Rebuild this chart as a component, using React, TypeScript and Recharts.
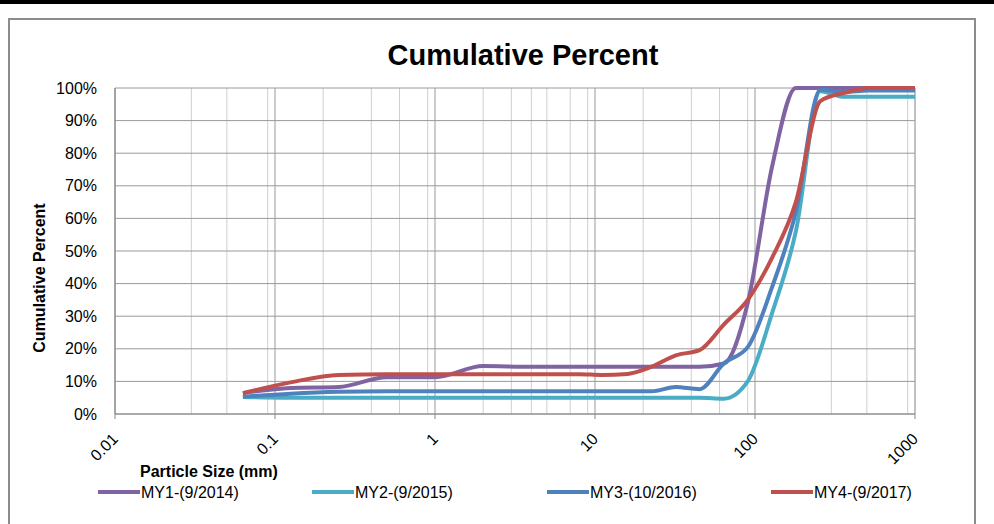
import { LineChart, Line, XAxis, YAxis, CartesianGrid } from 'recharts';

const sizes = [0.063, 0.125, 0.25, 0.5, 1, 2, 4, 5.6, 8, 11, 16, 22.6, 32, 45, 64, 90, 128, 180, 256, 362, 512, 1024];
const my1 = [6.4, 8, 8.3, 11.3, 11.3, 14.7, 14.5, 14.5, 14.5, 14.5, 14.5, 14.5, 14.5, 14.5, 15.5, 34, 76, 100, 100, 100, 100, 100];
const my2 = [5.2, 5, 5, 5, 5, 5, 5, 5, 5, 5, 5, 5, 5, 5, 4.7, 10, 31, 56, 99, 97.3, 97.3, 97.3];
const my3 = [5.3, 6.2, 6.8, 7, 7, 7, 7, 7, 7, 7, 7, 7, 8.3, 7.6, 15.6, 20.5, 39, 62, 99.5, 98.8, 99.2, 99.2];
const my4 = [6.4, 9.7, 12, 12.2, 12.2, 12.2, 12.2, 12.2, 12.2, 12, 12.3, 14.5, 18, 19.6, 27.5, 35, 48, 65, 96, 98.5, 100, 100];

const seriesNames = ['MY1-(9/2014)', 'MY2-(9/2015)', 'MY3-(10/2016)', 'MY4-(9/2017)'];
const seriesKeys = ['my1', 'my2', 'my3', 'my4'];
const seriesColors = ['#8064A2', '#4BACC6', '#4F81BD', '#C0504D'];
const legendX = [98, 312, 547, 771];

const majorTicks = [0.01, 0.1, 1, 10, 100, 1000];
const minorTicks = [0.02, 0.03, 0.04, 0.05, 0.06, 0.07, 0.08, 0.09, 0.2, 0.3, 0.4, 0.5, 0.6, 0.7, 0.8, 0.9, 2, 3, 4, 5, 6, 7, 8, 9, 20, 30, 40, 50, 60, 70, 80, 90, 200, 300, 400, 500, 600, 700, 800, 900];
const yTicks = [0, 10, 20, 30, 40, 50, 60, 70, 80, 90, 100];

const data = sizes.map((size, i) => ({
  size,
  my1: my1[i],
  my2: my2[i],
  my3: my3[i],
  my4: my4[i],
}));

const FONT = '"Liberation Sans", Arial, sans-serif';

function XTick({ x, y, payload }: any) {
  const ax = x + 4;
  const ay = y + 19;
  return (
    <text
      x={ax}
      y={ay}
      transform={`rotate(-45 ${ax} ${ay})`}
      textAnchor="end"
      fontSize={16}
      fontFamily={FONT}
      fill="#000"
    >
      {payload.value}
    </text>
  );
}

export default function App() {
  return (
    <div style={{ position: 'absolute', left: 0, top: 0, width: 994, height: 524, background: '#fff', overflow: 'hidden' }}>
      <div style={{ position: 'absolute', left: 0, top: 0, width: 994, height: 4, background: '#000' }} />
      <div
        style={{
          position: 'absolute',
          left: 8,
          top: 18,
          width: 968,
          height: 530,
          border: '2px solid #8c8c8c',
          boxSizing: 'border-box',
        }}
      />
      <div style={{ position: 'absolute', left: 0, top: 0 }}>
        <LineChart width={994} height={524} data={data} margin={{ top: 88, right: 79, bottom: 70, left: 55 }}>
          <XAxis xAxisId="minor" dataKey="size" type="number" scale="log" domain={[0.01, 1000]} allowDataOverflow ticks={minorTicks} hide />
          <CartesianGrid xAxisId="minor" horizontal={false} stroke="#cfcfcf" strokeWidth={1} />
          <CartesianGrid stroke="#9a9a9a" strokeWidth={1} />
          <XAxis
            dataKey="size"
            type="number"
            scale="log"
            domain={[0.01, 1000]}
            allowDataOverflow
            ticks={majorTicks}
            tick={<XTick />}
            tickSize={5}
            tickLine={{ stroke: '#888' }}
            axisLine={{ stroke: '#888' }}
            height={40}
            interval={0}
          />
          <YAxis
            domain={[0, 100]}
            ticks={yTicks}
            tickFormatter={(v) => `${v}%`}
            tickLine={false}
            axisLine={{ stroke: '#888' }}
            tickMargin={12}
            width={60}
            interval={0}
            tick={{ fontSize: 16, fontFamily: FONT, fill: '#000' }}
          />
          {seriesKeys.map((k, i) => (
            <Line
              key={k}
              dataKey={k}
              name={seriesNames[i]}
              type="monotone"
              stroke={seriesColors[i]}
              strokeWidth={4}
              dot={false}
              isAnimationActive={false}
            />
          ))}
        </LineChart>
      </div>
      <svg width={994} height={524} style={{ position: 'absolute', left: 0, top: 0, pointerEvents: 'none' }}>
        <text x={523} y={65} textAnchor="middle" fontSize={29} fontWeight="bold" fontFamily={FONT} fill="#000">
          Cumulative Percent
        </text>
        <text
          x={45}
          y={278}
          transform="rotate(-90 45 278)"
          textAnchor="middle"
          fontSize={16}
          fontWeight="bold"
          fontFamily={FONT}
          fill="#000"
        >
          Cumulative Percent
        </text>
        <text x={140} y={477} fontSize={16} fontWeight="bold" fontFamily={FONT} fill="#000">
          Particle Size (mm)
        </text>
        {seriesNames.map((name, i) => (
          <g key={name}>
            <line x1={legendX[i]} y1={492} x2={legendX[i] + 42} y2={492} stroke={seriesColors[i]} strokeWidth={4} />
            <text x={legendX[i] + 43} y={498} fontSize={16} fontFamily={FONT} fill="#000">
              {name}
            </text>
          </g>
        ))}
      </svg>
    </div>
  );
}
